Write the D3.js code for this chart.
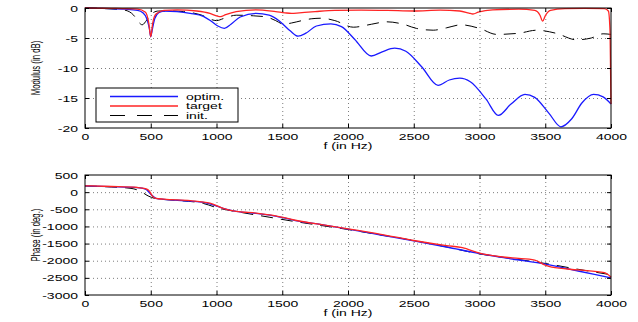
<!DOCTYPE html>
<html>
<head>
<meta charset="utf-8">
<script src="https://cdn.jsdelivr.net/npm/d3@7"></script>
<style>
body { margin: 0; background: #fff; }
text { font-family: "Liberation Sans", Arial, sans-serif; fill: #000; }
</style>
</head>
<body>
<div id="chart"></div>
<script>
// modulus (dB) knots
var fOptMod = [0,100,200,300,400,440,470,490,500,510,530,560,600,700,800,900,960,1010,1060,1110,1180,1300,1400,1480,1560,1620,1680,1760,1870,1950,2050,2177,2260,2355,2440,2560,2685,2770,2850,2930,3050,3143,3240,3346,3420,3530,3619,3700,3780,3867,3940,4000];
var optMod = [0,-0.05,-0.1,-0.2,-0.4,-0.8,-1.8,-3.5,-4.8,-3.8,-1.8,-0.8,-0.5,-0.6,-0.9,-1.4,-2.2,-3.0,-3.4,-2.7,-1.5,-0.9,-1.2,-2.2,-3.8,-4.7,-4.2,-3.0,-2.65,-3.1,-5.2,-8.0,-7.3,-6.7,-7.2,-9.8,-12.9,-12.0,-11.7,-12.3,-15.2,-17.9,-16.0,-14.4,-14.9,-17.6,-19.8,-18.5,-15.8,-14.4,-14.8,-16.0];

var fTargetMod = [0,200,400,460,485,500,515,540,600,700,850,950,1000,1030,1070,1150,1300,1450,1520,1570,1630,1750,1900,2100,2300,2500,2700,2850,2920,2950,2990,3100,3300,3420,3460,3480,3500,3540,3650,3800,3950,3980,3993,4000];
var targetMod = [0,-0.05,-0.2,-0.7,-2.5,-4.8,-2.5,-1.0,-0.4,-0.3,-0.5,-0.9,-1.3,-1.45,-1.1,-0.6,-0.3,-0.6,-0.8,-0.9,-0.8,-0.6,-0.4,-0.35,-0.4,-0.5,-0.35,-0.5,-0.85,-1.0,-0.7,-0.3,-0.2,-0.4,-1.2,-2.2,-1.3,-0.4,-0.1,-0.05,-0.1,-0.5,-4,-16];

var fInitMod = [0,150,300,370,410,435,470,510,560,650,750,875,1000,1060,1150,1280,1380,1450,1510,1570,1650,1720,1800,1900,2040,2180,2294,2420,2520,2648,2750,2860,3000,3131,3300,3435,3580,3739,3850,3940,4000];
var initMod = [0,-0.1,-0.35,-1.2,-2.4,-2.8,-2.0,-0.9,-0.5,-0.5,-0.6,-1.1,-2.1,-1.7,-1.2,-1.3,-1.5,-2.1,-2.7,-2.5,-2.1,-1.8,-1.7,-2.1,-3.2,-2.7,-2.3,-2.7,-3.4,-3.7,-3.3,-2.8,-3.4,-4.4,-4.2,-3.7,-4.2,-5.3,-5.0,-4.3,-4.4];

// phase (deg) knots
var fOptPh = [0,200,400,460,500,540,600,800,950,1050,1150,1300,1450,1600,1800,2000,2250,2500,2750,3000,3250,3500,3750,4000];
var optPh = [180,160,130,90,-60,-180,-210,-260,-340,-470,-560,-620,-700,-830,-950,-1080,-1250,-1420,-1600,-1790,-1950,-2100,-2300,-2500];

var fTargetPh = [0,200,400,460,490,510,540,600,800,950,1050,1150,1300,1450,1600,1800,2000,2250,2500,2750,2870,3000,3250,3420,3500,3550,3750,3950,4000];
var targetPh = [185,165,135,100,30,-100,-180,-205,-250,-320,-470,-560,-610,-690,-820,-950,-1070,-1230,-1410,-1560,-1620,-1780,-1920,-1980,-2130,-2190,-2270,-2350,-2480];

var fInitPh = [0,200,350,420,480,540,700,900,1000,1200,1400,1600,1800,2000,2250,2500,2750,3000,3250,3500,3750,4000];
var initPh = [180,150,110,30,-110,-190,-240,-330,-450,-600,-730,-860,-975,-1090,-1250,-1410,-1600,-1800,-1940,-2080,-2250,-2410];

var fTicks = [0,500,1000,1500,2000,2500,3000,3500,4000];
var modTicks = [0,-5,-10,-15,-20];
var phTicks = [500,0,-500,-1000,-1500,-2000,-2500,-3000];
var legendLabels = ["optim.", "target", "init."];

var W = 638, H = 322;
var left = 85, right = 611;
var svg = d3.select("#chart").append("svg").attr("width", W).attr("height", H);

var x = d3.scaleLinear().domain([0, 4000]).range([left, right]);

var styles = [
  {color: "#1a1aff", width: 1.3, dash: null},
  {color: "#ff2424", width: 1.3, dash: null},
  {color: "#000", width: 1, dash: "12,8"}
];
var drawOrder = [2, 0, 1]; // init, optim, then target on top

function stretchText(sel, tx, ty, anchor) {
  sel.attr("x", 0).attr("y", 0).attr("dy", null)
    .attr("text-anchor", anchor)
    .attr("transform", "translate(" + tx + "," + ty + ") scale(1.4,0.85)");
}

function panel(top, bottom, yDomain, yTicks, yLabel, series) {
  var y = d3.scaleLinear().domain(yDomain).range([bottom, top]);
  var g = svg.append("g");

  // dotted grid
  g.append("g").attr("transform", "translate(0," + bottom + ")")
    .call(d3.axisBottom(x).tickValues(fTicks.slice(1, -1)).tickSize(-(bottom - top)).tickFormat(""))
    .call(function(a) { a.select(".domain").remove(); })
    .selectAll("line").attr("stroke", "#444").attr("stroke-width", 0.7).attr("stroke-dasharray", "1,3");
  g.append("g").attr("transform", "translate(" + left + ",0)")
    .call(d3.axisLeft(y).tickValues(yTicks.slice(1, -1)).tickSize(-(right - left)).tickFormat(""))
    .call(function(a) { a.select(".domain").remove(); })
    .selectAll("line").attr("stroke", "#444").attr("stroke-width", 0.7).attr("stroke-dasharray", "1,3");

  // lines
  var line = d3.line().curve(d3.curveMonotoneX)
    .x(function(d) { return x(d[0]); })
    .y(function(d) { return y(d[1]); });
  drawOrder.forEach(function(k) {
    var s = series[k], st = styles[k];
    var pts = s[0].map(function(f, j) { return [f, s[1][j]]; });
    g.append("path").datum(pts)
      .attr("d", line)
      .attr("fill", "none")
      .attr("stroke", st.color)
      .attr("stroke-width", st.width)
      .attr("stroke-dasharray", st.dash);
  });

  // frame
  g.append("rect").attr("x", left).attr("y", top)
    .attr("width", right - left).attr("height", bottom - top)
    .attr("fill", "none").attr("stroke", "#000").attr("stroke-width", 1);

  // axes with inward ticks
  var xb = g.append("g").attr("transform", "translate(0," + bottom + ")")
    .call(d3.axisBottom(x).tickValues(fTicks).tickSize(-4).tickPadding(0).tickFormat(d3.format("d")));
  xb.select(".domain").remove();
  stretchText(xb.selectAll("text"), 0, 12, "middle");
  g.append("g").attr("transform", "translate(0," + top + ")")
    .call(d3.axisTop(x).tickValues(fTicks).tickSize(-4).tickFormat(""))
    .select(".domain").remove();

  var yl = g.append("g").attr("transform", "translate(" + left + ",0)")
    .call(d3.axisLeft(y).tickValues(yTicks).tickSize(-4).tickFormat(d3.format("d")));
  yl.select(".domain").remove();
  yl.selectAll("text").text(function(d) { return String(d); });
  stretchText(yl.selectAll("text"), -7, 3, "end");
  g.append("g").attr("transform", "translate(" + right + ",0)")
    .call(d3.axisRight(y).tickValues(yTicks).tickSize(-4).tickFormat(""))
    .select(".domain").remove();
  g.selectAll(".tick text").attr("font-size", 10).attr("font-family", "Liberation Sans, Arial, sans-serif");

  // labels
  g.append("text").attr("text-anchor", "middle").attr("font-size", 10)
    .attr("transform", "translate(" + ((left + right) / 2) + "," + (bottom + 21) + ") scale(1.4,0.85)")
    .text("f (in Hz)");
  g.append("text").attr("text-anchor", "middle").attr("font-size", 10)
    .attr("transform", "translate(40," + ((top + bottom) / 2) + ") rotate(-90) scale(0.78,1.3)")
    .text(yLabel);
  return y;
}

panel(8, 128, [-20, 0], modTicks, "Modulus (in dB)",
  [[fOptMod, optMod], [fTargetMod, targetMod], [fInitMod, initMod]]);
panel(175, 295, [-3000, 500], phTicks, "Phase  (in deg.)",
  [[fOptPh, optPh], [fTargetPh, targetPh], [fInitPh, initPh]]);

// legend
var leg = svg.append("g");
leg.append("rect").attr("x", 96).attr("y", 88).attr("width", 142).attr("height", 34)
  .attr("fill", "#fff").attr("stroke", "#000").attr("stroke-width", 1);
legendLabels.forEach(function(lab, i) {
  var yy = 96.5 + i * 9.5;
  leg.append("line").attr("x1", 110).attr("x2", 178).attr("y1", yy).attr("y2", yy)
    .attr("stroke", styles[i].color).attr("stroke-width", styles[i].width)
    .attr("stroke-dasharray", i === 2 ? "15,12" : null);
  leg.append("text").attr("font-size", 10)
    .attr("transform", "translate(186," + (yy + 3) + ") scale(1.4,0.85)")
    .text(lab);
});
</script>
</body>
</html>
